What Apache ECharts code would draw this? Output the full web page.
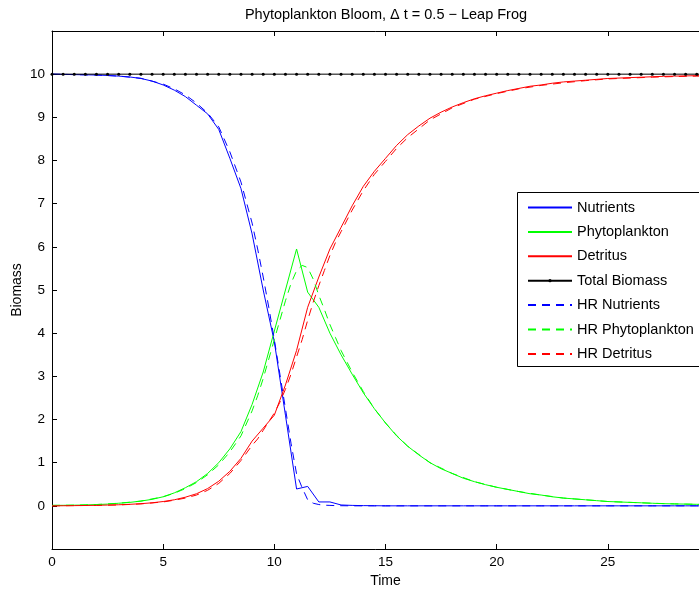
<!DOCTYPE html>
<html><head><meta charset="utf-8">
<script src="https://cdn.jsdelivr.net/npm/echarts@6/dist/echarts.min.js"></script>
<style>html,body{margin:0;padding:0;background:#fff;overflow:hidden}#c{width:699px;height:591px}</style>
</head><body><div id="c"></div>
<script>
// Leap frog solution, dt = 0.5
var tLF = [0,0.5,1,1.5,2,2.5,3,3.5,4,4.5,5,5.5,6,6.5,7,7.5,8,8.5,9,9.5,10,10.5,11,11.5,12,12.5,13,13.5,14,14.5,15,15.5,16,16.5,17,17.5,18,18.5,19,19.5,20,20.5,21,21.5,22,22.5,23,23.5,24,24.5,25,25.5,26,26.5,27,27.5,28,28.5,29,29.5,30];
var nutrients = [10,9.995,9.99,9.985,9.98,9.97,9.955,9.935,9.9,9.84,9.75,9.63,9.48,9.28,9.08,8.72,8.05,7.35,6.3,5.0,3.8,2.1,0.39,0.45,0.09,0.09,0.02,0.01,0.005,0.003,0,0,0,0,0,0,0,0,0,0,0,0,0,0,0,0,0,0,0,0,0,0,0,0,0,0,0,0,0,0,0];
var phyto = [0.01,0.012,0.015,0.02,0.03,0.04,0.06,0.08,0.11,0.15,0.21,0.3,0.42,0.56,0.75,1.0,1.32,1.72,2.35,3.1,4.05,5.0,5.95,4.95,4.6,4.0,3.5,3.05,2.62,2.25,1.92,1.62,1.38,1.18,1.0,0.86,0.75,0.64,0.56,0.49,0.43,0.38,0.33,0.28,0.25,0.21,0.18,0.16,0.14,0.12,0.1,0.09,0.08,0.07,0.06,0.05,0.045,0.04,0.035,0.03,0.028];
var detritus = [0,0.002,0.005,0.008,0.012,0.018,0.025,0.035,0.05,0.07,0.1,0.14,0.2,0.28,0.4,0.57,0.8,1.1,1.5,1.8,2.1,2.8,3.6,4.6,5.3,5.95,6.45,6.95,7.4,7.75,8.05,8.35,8.6,8.8,8.98,9.12,9.24,9.34,9.43,9.5,9.56,9.62,9.67,9.72,9.75,9.79,9.82,9.84,9.86,9.88,9.9,9.91,9.92,9.93,9.94,9.95,9.955,9.96,9.965,9.97,9.972];
var total = [10,10,10,10,10,10,10,10,10,10,10,10,10,10,10,10,10,10,10,10,10,10,10,10,10,10,10,10,10,10,10,10,10,10,10,10,10,10,10,10,10,10,10,10,10,10,10,10,10,10,10,10,10,10,10,10,10,10,10,10,10];
// High resolution reference solution
var tHR = [0,1,2,3,4,5,5.5,6,6.5,7,7.5,8,8.5,9,9.25,9.5,9.75,10,10.25,10.5,10.75,11,11.25,11.5,11.75,12,12.25,12.5,12.75,13,13.5,14,14.5,15,15.5,16,17,18,19,20,21,22,23,24,25,26,27,28,29,30];
var hrNutrients = [10,9.99,9.98,9.955,9.905,9.77,9.66,9.52,9.33,9.1,8.78,8.2,7.5,6.55,5.95,5.3,4.6,3.85,3.05,2.25,1.45,0.74,0.42,0.14,0.06,0.03,0.015,0.01,0.005,0.003,0,0,0,0,0,0,0,0,0,0,0,0,0,0,0,0,0,0,0,0];
var hrPhyto = [0.01,0.015,0.03,0.06,0.11,0.21,0.29,0.4,0.54,0.72,0.95,1.25,1.62,2.2,2.55,2.95,3.4,3.85,4.3,4.75,5.15,5.45,5.57,5.52,5.25,4.88,4.55,4.2,3.9,3.6,3.1,2.65,2.25,1.92,1.63,1.38,1.0,0.75,0.56,0.43,0.33,0.25,0.18,0.14,0.1,0.08,0.06,0.045,0.035,0.028];
var hrDetritus = [0,0.005,0.01,0.02,0.045,0.09,0.13,0.18,0.25,0.36,0.52,0.75,1.05,1.4,1.55,1.75,1.95,2.15,2.4,2.7,3.05,3.45,3.85,4.3,4.72,5.1,5.45,5.8,6.1,6.35,6.85,7.3,7.68,7.98,8.28,8.53,8.94,9.22,9.42,9.55,9.66,9.74,9.8,9.85,9.89,9.91,9.93,9.945,9.955,9.967];
var xTicks = [0,5,10,15,20,25,30];
var yTickLabels = ['0','1','2','3','4','5','6','7','8','9','10'];
var legendNames = ['Nutrients','Phytoplankton','Detritus','Total Biomass','HR Nutrients','HR Phytoplankton','HR Detritus'];

function pairs(t, v){ return t.map(function(x,i){ return [x, v[i]]; }); }
var FONT = "'Liberation Sans', Arial, Helvetica, sans-serif";
var chart = echarts.init(document.getElementById('c'));
function line(name, t, v, color, dashed){
  return {name:name, type:'line', data:pairs(t,v), symbol:'none', z:2,
    lineStyle:{color:color, width:1, type: dashed ? [8,6] : 'solid'}, itemStyle:{color:color}, animation:false};
}
chart.setOption({
  animation:false,
  backgroundColor:'#fff',
  textStyle:{fontFamily:FONT},
  title:{text:'Phytoplankton Bloom, \u0394 t = 0.5 \u2212 Leap Frog', left:381, top:2, textAlign:'center',
    textStyle:{fontSize:14.5, fontWeight:'normal', color:'#000', fontFamily:FONT}},
  grid:{left:52, top:31, bottom:42, width:667, containLabel:false, outerBoundsMode:'none'},
  xAxis:[{type:'value', min:0, max:30, interval:5, position:'bottom',
    name:'Time', nameLocation:'middle', nameGap:25, nameMoveOverlap:false, nameTextStyle:{fontSize:14, color:'#000', fontFamily:FONT},
    axisLine:{show:true, onZero:false, lineStyle:{color:'#000', width:1}},
    axisTick:{show:true, inside:true, length:5, lineStyle:{color:'#000'}},
    axisLabel:{color:'#000', fontSize:13.5, margin:6, fontFamily:FONT, formatter:function(v){ return xTicks.indexOf(v)>=0 ? String(v) : ''; }},
    splitLine:{show:false}},
   {type:'value', min:0, max:30, interval:5, position:'top',
    axisLine:{show:true, onZero:false, lineStyle:{color:'#000', width:1}},
    axisTick:{show:true, inside:true, length:5, lineStyle:{color:'#000'}},
    axisLabel:{show:false}, splitLine:{show:false}}],
  yAxis:[{type:'value', min:-1, max:11, interval:1,
    name:'Biomass', nameLocation:'middle', nameGap:28, nameMoveOverlap:false, nameRotate:90, nameTextStyle:{fontSize:14, color:'#000', fontFamily:FONT},
    axisLine:{show:true, onZero:false, lineStyle:{color:'#000', width:1}},
    axisTick:{show:true, inside:true, length:5, lineStyle:{color:'#000'}},
    axisLabel:{color:'#000', fontSize:13.5, margin:7, fontFamily:FONT, formatter:function(v){ var s=String(v); return yTickLabels.indexOf(s)>=0 ? s : ''; }},
    splitLine:{show:false}}],
  legend:{orient:'vertical', left:527, top:200, itemWidth:44, itemHeight:4, itemGap:9.4, z:6, padding:0,
    textStyle:{fontSize:14.5, color:'#000', fontFamily:FONT},
    data: legendNames.map(function(n){ return n==='Total Biomass' ? {name:n} : {name:n, itemStyle:{opacity:0}}; })},
  graphic:[{type:'rect', left:517, top:192, z:5, shape:{width:260, height:174},
    style:{fill:'#fff', stroke:'#000', lineWidth:1}}],
  series:[
    line('Nutrients', tLF, nutrients, '#0000ff', false),
    line('Phytoplankton', tLF, phyto, '#00ff00', false),
    line('Detritus', tLF, detritus, '#ff0000', false),
    {name:'Total Biomass', type:'line', data:pairs(tLF,total), symbol:'circle', symbolSize:3, showSymbol:true, z:3,
      lineStyle:{color:'#000', width:1}, itemStyle:{color:'#000'}, animation:false},
    line('HR Nutrients', tHR, hrNutrients, '#0000ff', true),
    line('HR Phytoplankton', tHR, hrPhyto, '#00ff00', true),
    line('HR Detritus', tHR, hrDetritus, '#ff0000', true)
  ]
});
</script></body></html>
